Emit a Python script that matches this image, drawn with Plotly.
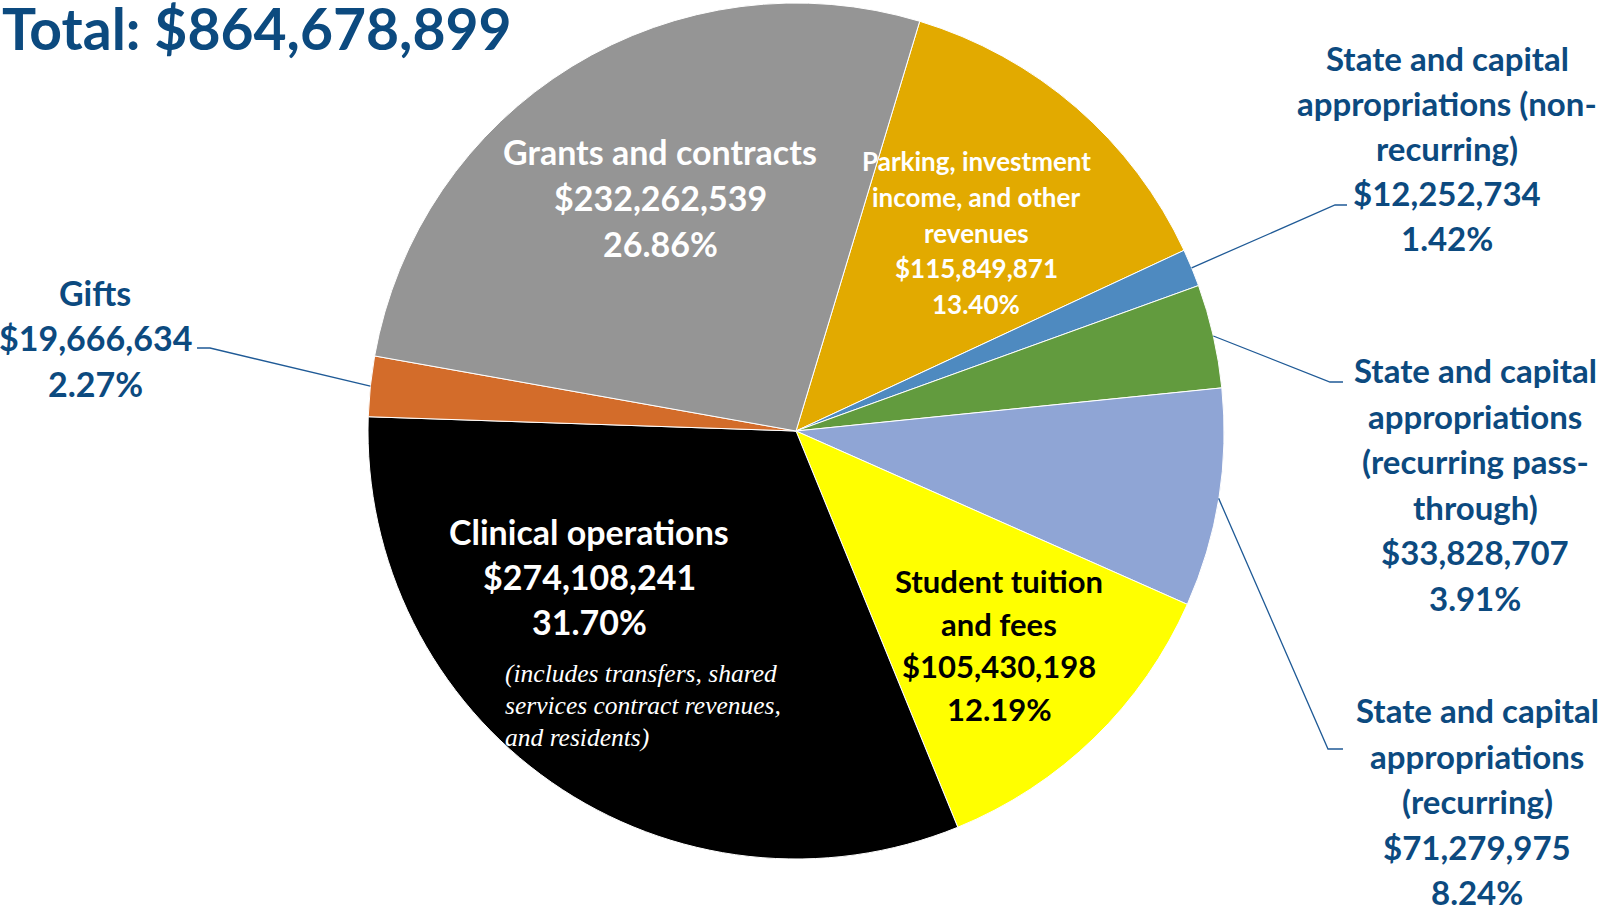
import plotly.graph_objects as go
import math

# ---------------- data ----------------
categories = [
    "Parking, investment income, and other revenues",
    "State and capital appropriations (non-recurring)",
    "State and capital appropriations (recurring pass-through)",
    "State and capital appropriations (recurring)",
    "Student tuition and fees",
    "Clinical operations",
    "Gifts",
    "Grants and contracts",
]
amounts = [115849871, 12252734, 33828707, 71279975, 105430198, 274108241, 19666634, 232262539]
amount_labels = ["$115,849,871", "$12,252,734", "$33,828,707", "$71,279,975",
                 "$105,430,198", "$274,108,241", "$19,666,634", "$232,262,539"]
percent_labels = ["13.40%", "1.42%", "3.91%", "8.24%", "12.19%", "31.70%", "2.27%", "26.86%"]
name_lines = [
    ["Parking, investment", "income, and other", "revenues"],
    ["State and capital", "appropriations (non-", "recurring)"],
    ["State and capital", "appropriations", "(recurring pass-", "through)"],
    ["State and capital", "appropriations", "(recurring)"],
    ["Student tuition", "and fees"],
    ["Clinical operations"],
    ["Gifts"],
    ["Grants and contracts"],
]
total_label = "Total: $864,678,899"
clinical_note = ["(includes transfers, shared", "services contract revenues,", "and residents)"]

colors = ["#E2AA00", "#4E8AC0", "#629B3E", "#8FA5D5", "#FFFF00", "#000000", "#D36C2A", "#959595"]

# ---------------- layout constants ----------------
W, H = 1610, 913
CX, CY, R = 796, 431, 428
ROT = 16.8
NAVY = "#0C4A7F"
LINE = "#1F5A96"
FONT = "Lato"

def px(x):
    return x / W

def py(y):
    return 1 - y / H

fig = go.Figure(go.Pie(
    labels=categories,
    values=amounts,
    sort=False,
    direction="clockwise",
    rotation=ROT,
    marker=dict(colors=colors, line=dict(color="white", width=1)),
    textinfo="none",
    hoverinfo="label+value+percent",
    showlegend=False,
    domain=dict(x=[px(CX - R), px(CX + R)], y=[py(CY + R), py(CY - R)]),
))

annotations = []

def put(text, x, y, size, color, xanchor="center", family=FONT, bold=True, italic=False):
    t = text
    if bold:
        t = "<b>" + t + "</b>"
    if italic:
        t = "<i>" + t + "</i>"
    annotations.append(dict(
        text=t, x=px(x), y=py(y), xref="paper", yref="paper",
        xanchor=xanchor, yanchor="middle", showarrow=False,
        font=dict(family=family, size=size, color=color),
    ))

def block(i, x, y0, step, size, color):
    lines = name_lines[i] + [amount_labels[i], percent_labels[i]]
    for k, ln in enumerate(lines):
        put(ln, x, y0 + k * step, size, color)

# title
put(total_label, 0, 28, 57, NAVY, xanchor="left")

# inside labels
block(7, 660, 151, 46, 34, "white")     # Grants
block(0, 976, 161, 35.8, 26, "white")   # Parking
block(5, 589, 531, 45, 34, "white")     # Clinical
block(4, 999, 581, 42.7, 31, "black")   # Student
for k, ln in enumerate(clinical_note):
    put(ln, 503, 673 + k * 32, 25.5, "white", xanchor="left",
        family="Liberation Serif", bold=False, italic=True)

# outside labels
block(1, 1447, 58, 45, 33, NAVY)
block(2, 1475, 370, 45.6, 33, NAVY)
block(3, 1477, 710, 45.5, 33, NAVY)
block(6, 95, 292, 45.5, 34, NAVY)

# leader lines: start at slice mid-angle edge (computed from values)
total = sum(amounts)
mid_angle = {}
cum = 0
for i, v in enumerate(amounts):
    mid_angle[i] = ROT + (cum + v / 2) / total * 360
    cum += v

def edge(i):
    a = math.radians(mid_angle[i])
    return CX + R * math.sin(a), CY - R * math.cos(a)

leaders = {1: [(1335, 205), (1347, 205)],
           2: [(1330, 382), (1343, 382)],
           3: [(1328, 749), (1343, 749)],
           6: [(210, 348), (197, 348)]}
shapes = []
for i, pts in leaders.items():
    x0, y0 = edge(i)
    path = "M {:.5f},{:.5f}".format(px(x0), py(y0))
    for (x, y) in pts:
        path += " L {:.5f},{:.5f}".format(px(x), py(y))
    shapes.append(dict(type="path", path=path, xref="paper", yref="paper",
                       line=dict(color=LINE, width=1.3)))

fig.update_layout(
    width=W, height=H,
    margin=dict(l=0, r=0, t=0, b=0),
    paper_bgcolor="white", plot_bgcolor="white",
    annotations=annotations, shapes=shapes,
    font=dict(family=FONT),
)

fig.write_html("out.html", config={"displayModeBar": False},
               post_script="document.body.style.margin='0';")
